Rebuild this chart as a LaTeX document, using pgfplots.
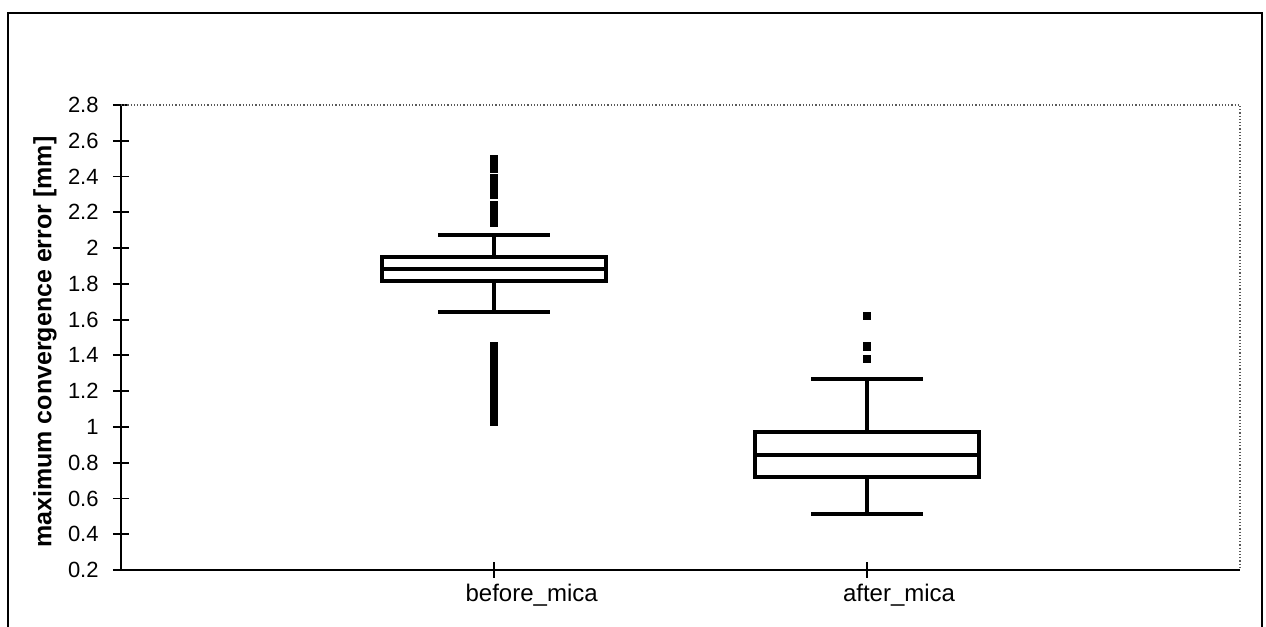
\documentclass[border=0pt]{standalone}
\usepackage{fontspec}
\setmainfont{Liberation Sans}
\usepackage{pgfplots}
\pgfplotsset{compat=1.18}
\usepgfplotslibrary{statistics}
\begin{document}
\begin{tikzpicture}[x=0.5pt,y=0.5pt]
\useasboundingbox (0,0) rectangle (1266,627);
\draw[line width=1.3pt] (8,0) -- (8,614) -- (1262,614) -- (1262,0);
\begin{axis}[
  at={(60.5pt,28.5pt)}, anchor=south west,
  scale only axis, width=559.5pt, height=232.5pt,
  xmin=0, xmax=3, ymin=0.2, ymax=2.8,
  axis lines*=left,
  axis line style={line width=1.3pt, black},
  clip=false,
  boxplot/draw direction=y,
  xtick={1,2},
  xticklabels={},
  extra x ticks={1.101,2.086},
  extra x tick labels={before\_mica, after\_mica},
  extra x tick style={major tick length=0pt, tick style={draw=none}},
  x tick label style={font=\fontsize{12}{14}\selectfont, inner sep=0pt, yshift=-7pt},
  ytick={0.2,0.4,0.6,0.8,1,1.2,1.4,1.6,1.8,2,2.2,2.4,2.6,2.8},
  /pgf/number format/assume math mode=true,
  y tick label style={font=\fontsize{11}{13}\selectfont, inner sep=0pt, inner xsep=7pt, /pgf/number format/fixed},
  tick align=center,
  major tick length=8pt,
  every tick/.style={black, line width=0.9pt},
  ylabel={\bfseries maximum convergence error [mm]},
  every axis y label/.style={at={(axis description cs:0,0.49)}, xshift=-38pt, rotate=90, anchor=center, font=\fontsize{12.5}{15}\selectfont},
]
\draw[densely dotted, gray!70!black, line width=0.6pt] (rel axis cs:0,1) -- (rel axis cs:1,1) -- (rel axis cs:1,0);
\addplot+[black, line width=1.9pt, fill=white,
  mark=square*, mark size=1.8pt, mark options={black, fill=black, line width=0pt},
  boxplot prepared={draw position=1, lower whisker=1.642, lower quartile=1.816,
    median=1.883, upper quartile=1.95, upper whisker=2.073,
    box extend=0.6, whisker extend=0.3}]
  table[row sep=\\, y index=0] {
  2.50\\ 2.47\\ 2.44\\ 2.39\\ 2.36\\ 2.33\\ 2.30\\ 2.24\\ 2.21\\ 2.17\\ 2.14\\
  1.03\\ 1.05\\ 1.07\\ 1.09\\ 1.11\\ 1.13\\ 1.15\\ 1.17\\ 1.19\\ 1.21\\ 1.23\\
  1.25\\ 1.27\\ 1.29\\ 1.31\\ 1.33\\ 1.35\\ 1.37\\ 1.39\\ 1.41\\ 1.43\\ 1.45\\
  };
\addplot+[black, line width=1.9pt, fill=white,
  mark=square*, mark size=1.8pt, mark options={black, fill=black, line width=0pt},
  boxplot prepared={draw position=2, lower whisker=0.513, lower quartile=0.719,
    median=0.843, upper quartile=0.971, upper whisker=1.268,
    box extend=0.6, whisker extend=0.3}]
  table[row sep=\\, y index=0] {
  1.62\\ 1.45\\ 1.38\\
  };
\end{axis}
\end{tikzpicture}
\end{document}
